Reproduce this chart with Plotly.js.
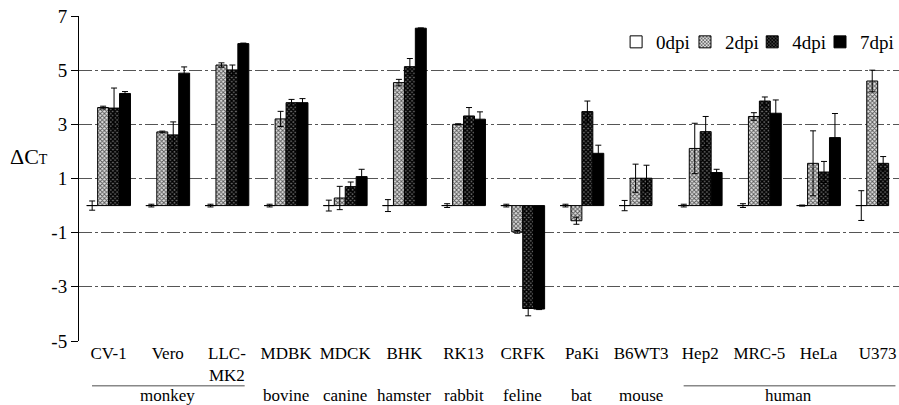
<!DOCTYPE html>
<html>
<head>
<meta charset="utf-8">
<script src="https://cdn.plot.ly/plotly-3.0.1.min.js"></script>
<style>
  html, body { margin: 0; padding: 0; background: #fff; }
  #chart { width: 899px; height: 405px; }
  #chart svg text { font-family: 'Liberation Serif', 'Times New Roman', serif !important; }
</style>
</head>
<body>
<div id="chart"></div>
<script>
// Cell lines on the x axis
const categories = ['CV-1', 'Vero', 'LLC-MK2', 'MDBK', 'MDCK', 'BHK', 'RK13', 'CRFK', 'PaKi', 'B6WT3', 'Hep2', 'MRC-5', 'HeLa', 'U373'];
const tickLabels = ['CV-1', 'Vero', 'LLC-<br>MK2', 'MDBK', 'MDCK', 'BHK', 'RK13', 'CRFK', 'PaKi', 'B6WT3', 'Hep2', 'MRC-5', 'HeLa', 'U373'];

// ΔCT axis ticks (plain hyphen for negatives)
const yTickVals = [-5, -3, -1, 1, 3, 5, 7];
const yTickText = ['-5', '-3', '-1', '1', '3', '5', '7'];

// ΔCT per time point (days post infection) with standard deviations
const dpi0 = [0, 0, 0, 0, 0, 0, 0, 0, 0, 0, 0, 0, 0, 0];
const err0 = [0.17, 0.05, 0.05, 0.05, 0.2, 0.22, 0.07, 0.05, 0.05, 0.19, 0.05, 0.07, 0.02, 0.55];
const dpi2 = [3.62, 2.72, 5.19, 3.2, 0.28, 4.54, 3.0, -0.97, -0.56, 1.01, 2.11, 3.29, 1.56, 4.6];
const err2 = [0.05, 0.03, 0.08, 0.28, 0.43, 0.12, 0.02, 0.05, 0.13, 0.52, 0.93, 0.14, 1.2, 0.4];
const dpi4 = [3.6, 2.61, 5.01, 3.8, 0.7, 5.13, 3.31, -3.8, 3.47, 1.01, 2.73, 3.86, 1.24, 1.56];
const err4 = [0.74, 0.48, 0.18, 0.12, 0.17, 0.3, 0.31, 0.27, 0.39, 0.48, 0.56, 0.15, 0.39, 0.25];
const dpi7 = [4.14, 4.89, 5.98, 3.8, 1.07, 6.55, 3.19, -3.82, 1.93, null, 1.22, 3.41, 2.51, null];
const err7 = [0.07, 0.23, 0.02, 0.15, 0.27, 0.01, 0.27, 0.02, 0.3, null, 0.12, 0.49, 0.89, null];

// Host species grouping below the cell-line labels
const groupNames = ['monkey', 'bovine', 'canine', 'hamster', 'rabbit', 'feline', 'bat', 'mouse', 'human'];
const groupFirst = [0, 3, 4, 5, 6, 7, 8, 9, 10];
const groupLast  = [2, 3, 4, 5, 6, 7, 8, 9, 13];

const serif = 'Liberation Serif';
const xEnd = 13.36;

function errBar(arr) {
  return { type: 'data', array: arr, visible: true, color: '#000', thickness: 1, width: 3 };
}

const outline = { color: '#000', width: 1 };

const traces = [
  {
    type: 'bar', name: '0dpi', x: categories, y: dpi0, error_y: errBar(err0), legend: 'legend',
    marker: { color: '#ffffff', line: outline }
  },
  {
    type: 'bar', name: '2dpi', x: categories, y: dpi2, error_y: errBar(err2), legend: 'legend2',
    marker: {
      color: '#ffffff', line: outline,
      pattern: { shape: 'x', fgcolor: '#555555', bgcolor: '#e0e0e0', size: 3, solidity: 0.5 }
    }
  },
  {
    type: 'bar', name: '4dpi', x: categories, y: dpi4, error_y: errBar(err4), legend: 'legend3',
    marker: {
      color: '#222222', line: outline,
      pattern: { shape: 'x', fgcolor: '#000000', bgcolor: '#6a6a6a', size: 3, solidity: 0.7 }
    }
  },
  {
    type: 'bar', name: '7dpi', x: categories, y: dpi7, error_y: errBar(err7), legend: 'legend4',
    marker: { color: '#000000', line: outline }
  }
];

// Species labels and the rules over multi-line groups
const annotations = groupNames.map((g, i) => ({
  text: g, xref: 'x', yref: 'paper',
  x: (groupFirst[i] + groupLast[i]) / 2, y: -0.169,
  xanchor: 'center', yanchor: 'middle', showarrow: false,
  font: { family: serif, size: 17, color: '#000' }
}));
annotations.push({
  text: 'ΔC<span style="font-size:14px">T</span>',
  xref: 'paper', yref: 'paper', x: -0.061, y: 0.569,
  xanchor: 'center', yanchor: 'middle', showarrow: false,
  font: { family: serif, size: 22, color: '#000' }
});

const shapes = [];
groupNames.forEach((g, i) => {
  if (groupLast[i] > groupFirst[i]) {
    shapes.push({
      type: 'line', xref: 'x', yref: 'paper',
      x0: groupFirst[i] - 0.28, x1: Math.min(groupLast[i] + 0.3, xEnd),
      y0: -0.138, y1: -0.138,
      line: { color: '#888', width: 1.5 }
    });
  }
});

// One single-entry legend per time point, laid out in a row
function legendAt(x) {
  return {
    orientation: 'h', x: x, xanchor: 'left', y: 0.92, yanchor: 'middle',
    font: { family: serif, size: 19, color: '#000' },
    itemwidth: 30, bgcolor: 'rgba(0,0,0,0)', borderwidth: 0
  };
}

const layout = {
  width: 899, height: 405,
  margin: { l: 79, r: 0, t: 16, b: 64 },
  paper_bgcolor: '#fff', plot_bgcolor: '#fff',
  font: { family: serif, color: '#000' },
  barmode: 'group', bargap: 0.26, bargroupgap: 0,
  showlegend: true,
  legend: legendAt(0.655),
  legend2: legendAt(0.739),
  legend3: legendAt(0.821),
  legend4: legendAt(0.904),
  xaxis: {
    type: 'category', range: [-0.5, xEnd],
    tickmode: 'array', tickvals: categories, ticktext: tickLabels,
    ticks: '', showline: false, showgrid: false, zeroline: false,
    tickfont: { family: serif, size: 17, color: '#000' }
  },
  yaxis: {
    range: [-5, 7], tickmode: 'array', tickvals: yTickVals, ticktext: yTickText,
    ticks: 'outside', ticklen: 7, tickcolor: '#000', tickwidth: 1,
    showline: true, linecolor: '#000', linewidth: 1,
    showgrid: true, gridcolor: '#555', gridwidth: 1, griddash: '13px,3px,3px,3px',
    zeroline: false,
    tickfont: { family: serif, size: 19, color: '#000' }
  },
  annotations: annotations,
  shapes: shapes
};

Plotly.newPlot('chart', traces, layout, { displayModeBar: false, staticPlot: true });
</script>
</body>
</html>
